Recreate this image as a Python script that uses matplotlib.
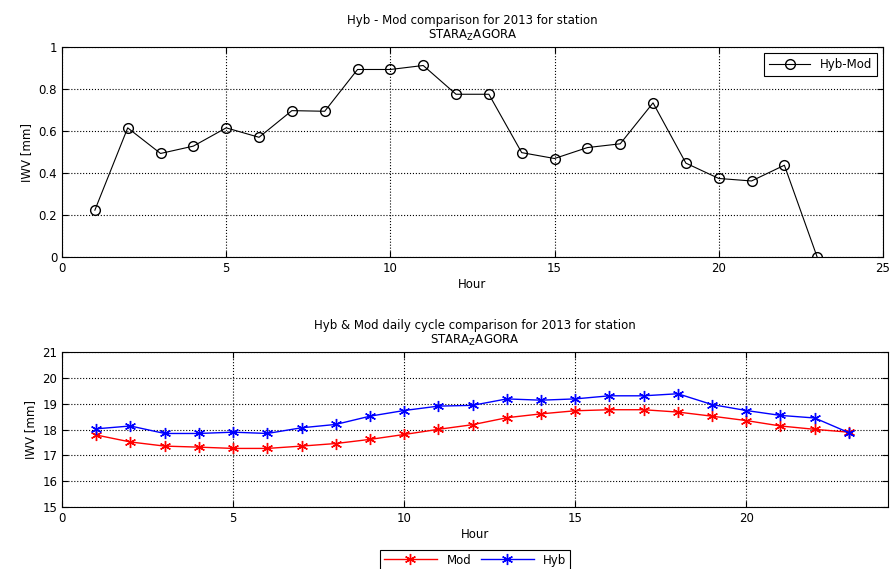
import matplotlib
matplotlib.use("Agg")
from matplotlib import pyplot as plt

hours = list(range(1, 24))
diff = [0.224, 0.616, 0.494, 0.529, 0.616, 0.571, 0.698, 0.695, 0.894, 0.894,
        0.913, 0.776, 0.776, 0.498, 0.470, 0.522, 0.540, 0.735, 0.448, 0.375,
        0.363, 0.438, 0.0]
hyb = [18.03, 18.14, 17.85, 17.85, 17.90, 17.85, 18.07, 18.20, 18.52, 18.74,
       18.91, 18.94, 19.19, 19.14, 19.19, 19.31, 19.31, 19.39, 18.97, 18.74,
       18.55, 18.45, 17.88]
mod = [17.79, 17.52, 17.36, 17.32, 17.27, 17.27, 17.36, 17.46, 17.62, 17.81,
       18.01, 18.19, 18.46, 18.61, 18.73, 18.77, 18.77, 18.68, 18.52, 18.35,
       18.14, 18.01, 17.90]

station = r"STARA$_{\mathrm{Z}}$AGORA"
FS = 8.5
ASTER = (6, 2, 0)

plt.rcParams['font.family'] = ['DejaVu Sans']
plt.rcParams['font.size'] = FS

fig = plt.figure(figsize=(8.9, 5.69), dpi=100)


def style(ax):
    ax.grid(True, linestyle=':', color='black', linewidth=0.8)
    ax.tick_params(direction='in', top=True, right=True, labelsize=FS, length=4)
    for s in ax.spines.values():
        s.set_linewidth(0.8)


# top panel
ax1 = fig.add_axes([0.0697, 0.548, 0.9223, 0.369])
ax1.plot(hours, diff, color='black', marker='o', markerfacecolor='none',
         markersize=7, linewidth=0.8, label='Hyb-Mod')
ax1.set_xlim(0, 25)
ax1.set_ylim(0, 1)
ax1.set_xticks([0, 5, 10, 15, 20, 25])
ax1.set_yticks([0, 0.2, 0.4, 0.6, 0.8, 1])
ax1.set_yticklabels(['0', '0.2', '0.4', '0.6', '0.8', '1'])
ax1.set_xlabel('Hour', labelpad=2)
ax1.set_ylabel('IWV [mm]')
ax1.set_title('Hyb - Mod comparison for 2013 for station\n' + station,
              fontsize=FS, pad=6, linespacing=1.1)
style(ax1)
leg1 = ax1.legend(loc='upper right', fancybox=False, edgecolor='black',
                  framealpha=1, handlelength=3.5, borderpad=0.4)
leg1.get_frame().set_linewidth(0.8)

# bottom panel
ax2 = fig.add_axes([0.0697, 0.109, 0.9283, 0.272])
ax2.plot(hours, mod, color='red', marker=ASTER, markersize=8,
         linewidth=1, label='Mod')
ax2.plot(hours, hyb, color='blue', marker=ASTER, markersize=8,
         linewidth=1, label='Hyb')
ax2.set_xlim(0, 24.15)
ax2.set_ylim(15, 21)
ax2.set_xticks([0, 5, 10, 15, 20])
ax2.set_yticks(range(15, 22))
ax2.set_xlabel('Hour', labelpad=2)
ax2.set_ylabel('IWV [mm]')
ax2.set_title('Hyb & Mod daily cycle comparison for 2013 for station\n' + station,
              fontsize=FS, pad=6, linespacing=1.1)
style(ax2)
leg2 = ax2.legend(loc='upper center', bbox_to_anchor=(0.5, -0.24), ncol=2,
                  fancybox=False, edgecolor='black', framealpha=1,
                  handlelength=4.5, columnspacing=0.8, borderpad=0.3)
leg2.get_frame().set_linewidth(0.8)

fig.savefig('out.png', dpi=100)
